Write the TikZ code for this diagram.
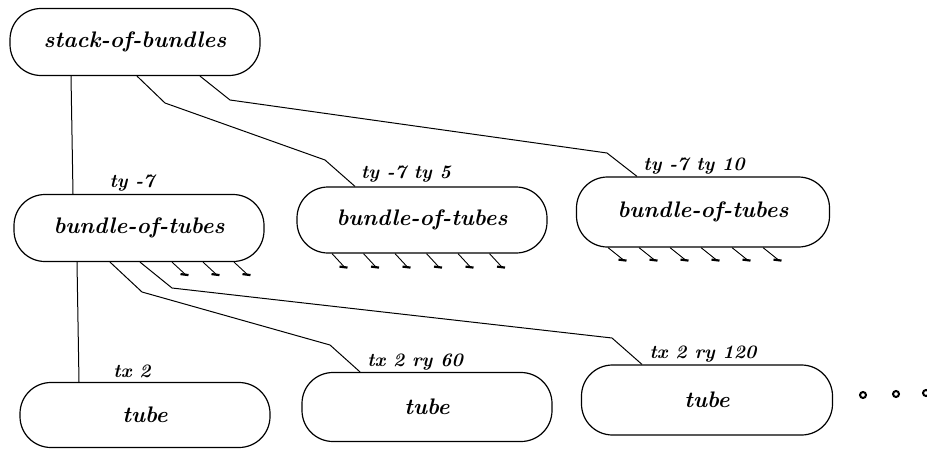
\documentclass[tikz,border=0pt]{standalone}
\usepackage{fontspec}
\setmainfont{Latin Modern Roman}
\begin{document}
\begin{tikzpicture}[x=1pt,y=-1pt,
  box/.style={draw,line width=1.2pt,rounded corners=31pt,minimum width=250pt,minimum height=67pt,inner sep=0pt,
    font=\fontsize{22.5}{26}\selectfont\bfseries\itshape},
  lbl/.style={inner sep=0pt,font=\fontsize{19}{22}\selectfont\bfseries\itshape},
  conn/.style={line width=1pt},
  hatch/.style={line width=0.9pt},
  bar/.style={line width=2.2pt},
  dotmark/.style={draw,line width=2pt,circle,inner sep=0pt,minimum size=6pt}]
\useasboundingbox (0,0) rectangle (927,450);
% nodes
\node[box] (stack) at (135,42) {stack-of-bundles};
\node[box] (b1) at (139,228) {bundle-of-tubes};
\node[box,minimum height=66pt] (b2) at (422,220) {bundle-of-tubes};
\node[box,minimum width=253pt,minimum height=70pt] (b3) at (703,212) {bundle-of-tubes};
\node[box,minimum height=65pt] (t1) at (145,415) {tube};
\node[box,minimum height=69pt] (t2) at (427,407) {tube};
\node[box,minimum width=251pt,minimum height=70pt] (t3) at (707,400) {tube};
% labels
\node[lbl] (l1) at (132,183) {ty -7};
\node[lbl] (l2) at (406,174) {ty -7 ty 5};
\node[lbl] (l3) at (694,166) {ty -7 ty 10};
\node[lbl] (l4) at (132,371) {tx 2};
\node[lbl] (l5) at (415,362) {tx 2 ry 60};
\node[lbl] (l6) at (703,354) {tx 2 ry 120};
% connectors
\draw[conn] ([xshift=-64pt]stack.south) -- ([xshift=-66pt]b1.north);
\draw[conn] ([xshift=2pt]stack.south) -- (165,103) -- (325,160) -- ([xshift=-67pt]b2.north);
\draw[conn] ([xshift=65pt]stack.south) -- (230,100) -- (607,153) -- ([xshift=-66pt]b3.north);
\draw[conn] ([xshift=-62pt]b1.south) -- ([xshift=-66pt]t1.north);
\draw[conn] ([xshift=-29pt]b1.south) -- (142,292) -- (330,345) -- ([xshift=-67pt]t2.north);
\draw[conn] ([xshift=1pt]b1.south) -- (172,288) -- (612,338) -- ([xshift=-65pt]t3.north);
% hatch marks
\foreach \x in {33,64,95}{
  \draw[hatch] ([xshift=\x pt]b1.south) -- ++(13,12) coordinate (e);
  \draw[bar] ([xshift=-4.5pt]e) -- ([xshift=3.5pt,yshift=-1pt]e);
}
\foreach \x in {-90,-58.5,-27,4.5,36,67.5}{
  \draw[hatch] ([xshift=\x pt]b2.south) -- ++(12,13) coordinate (e);
  \draw[bar] ([xshift=-4.5pt]e) -- ([xshift=3.5pt,yshift=-1pt]e);
}
\foreach \x in {-95,-64,-33,-2,29,60}{
  \draw[hatch] ([xshift=\x pt]b3.south) -- ++(15,12) coordinate (e);
  \draw[bar] ([xshift=-4.5pt]e) -- ([xshift=3.5pt,yshift=-1pt]e);
}
% continuation dots
\node[dotmark] (d1) at (863,395) {};
\node[dotmark] (d2) at (896,394) {};
\node[dotmark] (d3) at (926,393) {};
\end{tikzpicture}
\end{document}
